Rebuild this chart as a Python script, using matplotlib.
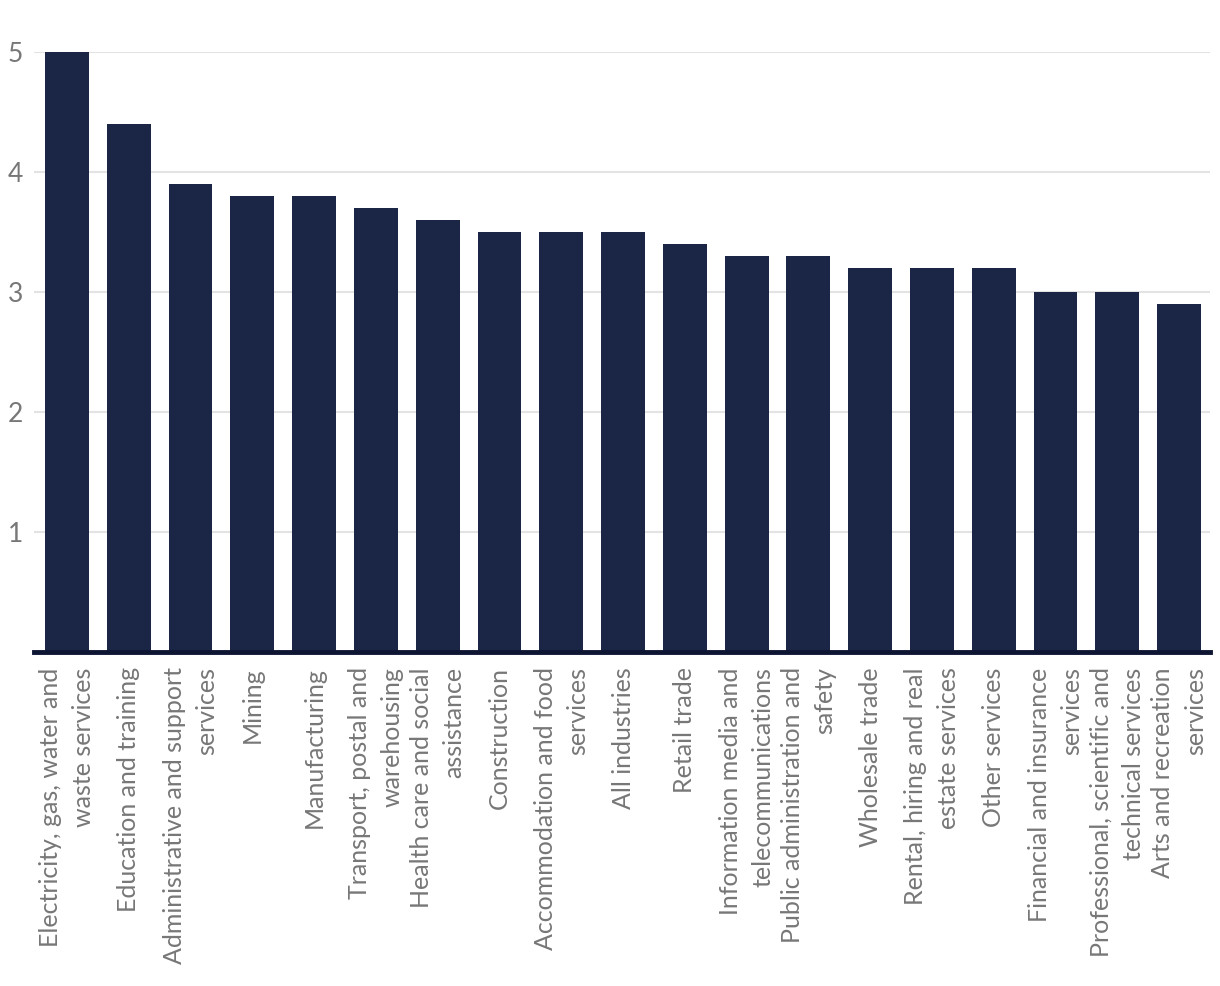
import matplotlib.pyplot as plt

industries = [
    "Electricity, gas, water and\nwaste services",
    "Education and training",
    "Administrative and support\nservices",
    "Mining",
    "Manufacturing",
    "Transport, postal and\nwarehousing",
    "Health care and social\nassistance",
    "Construction",
    "Accommodation and food\nservices",
    "All industries",
    "Retail trade",
    "Information media and\ntelecommunications",
    "Public administration and\nsafety",
    "Wholesale trade",
    "Rental, hiring and real\nestate services",
    "Other services",
    "Financial and insurance\nservices",
    "Professional, scientific and\ntechnical services",
    "Arts and recreation\nservices",
]
values = [5.0, 4.4, 3.9, 3.8, 3.8, 3.7, 3.6, 3.5, 3.5, 3.5,
          3.4, 3.3, 3.3, 3.2, 3.2, 3.2, 3.0, 3.0, 2.9]
yticks = [1, 2, 3, 4, 5]

plt.rcParams["font.family"] = ["Lato", "DejaVu Sans"]

fig = plt.figure(figsize=(12.2, 9.86), dpi=100)
ax = fig.add_axes([34 / 1220, 1 - 652 / 986, (1210 - 34) / 1220, 600 / 986])

x = list(range(len(values)))
ax.bar(x, values, width=0.71, color="#1b2646", zorder=2)

ax.set_xlim(-0.534, 18.5)
ax.set_ylim(0, 5)
ax.set_yticks(yticks)
ax.yaxis.grid(True, color="#e3e3e3", linewidth=1.5, zorder=0)
ax.set_axisbelow(True)

for side in ["top", "right", "left"]:
    ax.spines[side].set_visible(False)
ax.spines["bottom"].set_color("#0d1533")
ax.spines["bottom"].set_linewidth(3.5)

ax.tick_params(axis="y", length=0, pad=8, labelsize=19, labelcolor="#777777")
ax.tick_params(axis="x", length=0, pad=11)
ax.set_xticks(x)
ax.set_xticklabels(industries, rotation=90, ha="center", va="top",
                   multialignment="right", linespacing=1.5,
                   fontsize=18, color="#777777")

fig.savefig("out.png", dpi=100)
